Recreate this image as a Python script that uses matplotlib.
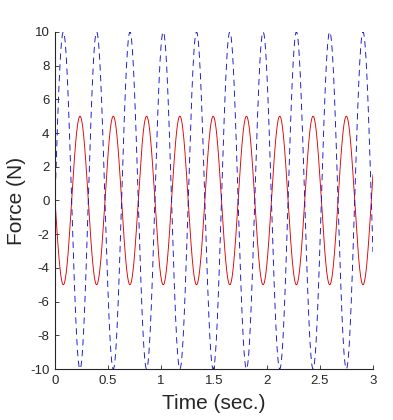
import numpy as np
import matplotlib.pyplot as plt

plt.rcParams['font.family'] = ['Liberation Sans', 'DejaVu Sans']
plt.rcParams['axes.unicode_minus'] = False

# values
t_end = 3.0
omega = 20.0            # rad/s, period ~0.315 s for both curves
red_amp = -5.0          # red starts at 0 and dips to -5 first
blue_amp = 10.0         # blue peaks where red bottoms out
x_ticks = [0, 0.5, 1, 1.5, 2, 2.5, 3]
x_labels = ['0', '0.5', '1', '1.5', '2', '2.5', '3']
y_ticks = [-10, -8, -6, -4, -2, 0, 2, 4, 6, 8, 10]

t = np.linspace(0, t_end, 3001)
red = red_amp * np.sin(omega * t)
blue = blue_amp * np.sin(omega * t)

fig = plt.figure(figsize=(3.93, 4.2), dpi=100)
ax = fig.add_axes([0.14, 0.1214, 0.809, 0.8026])

ax.plot(t, red, color='#e00000', linewidth=0.65)
ax.plot(t, blue, color='#1010d0', linestyle='--', dashes=(7, 5), linewidth=0.65)

ax.set_xlim(0, 3)
ax.set_ylim(-10, 10)
ax.set_xticks(x_ticks)
ax.set_xticklabels(x_labels)
ax.set_yticks(y_ticks)

grey = '#262626'
for side in ['top', 'right']:
    ax.spines[side].set_visible(False)
for side in ['left', 'bottom']:
    ax.spines[side].set_color(grey)
    ax.spines[side].set_linewidth(0.8)
ax.tick_params(direction='in', length=3, width=0.6, colors=grey,
               labelsize=9.5, pad=4)

ax.set_xlabel('Time (sec.)', fontsize=15, color=grey)
ax.set_ylabel('Force (N)', fontsize=15, color=grey)
ax.xaxis.set_label_coords(0.5, -0.075)
ax.yaxis.set_label_coords(-0.09, 0.5)

fig.savefig('out.png', dpi=100)
